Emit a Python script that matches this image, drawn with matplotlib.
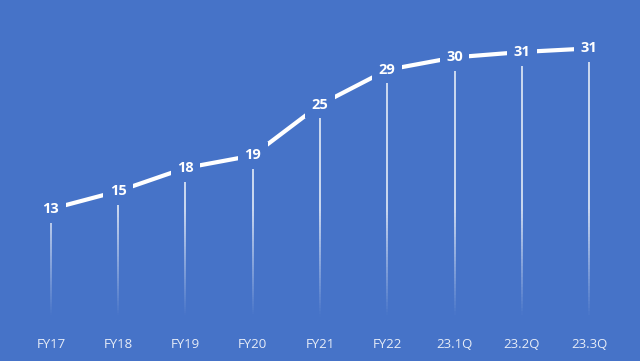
import numpy as np
import matplotlib
matplotlib.use("Agg")
import matplotlib.pyplot as plt
from matplotlib.collections import LineCollection

categories = ["FY17", "FY18", "FY19", "FY20", "FY21", "FY22", "23.1Q", "23.2Q", "23.3Q"]
values = [13.0, 15.0, 17.6, 19.0, 24.7, 28.6, 30.0, 30.6, 31.0]

BG = "#4673C8"
fig = plt.figure(figsize=(6.4, 3.61), dpi=100, facecolor=BG)
ax = fig.add_axes([0.027, 0.0997, 0.946, 0.865])
ax.set_facecolor(BG)
x = np.arange(len(categories))

# gradient drop lines
segs, cols = [], []
for xi, v in zip(x, values):
    ys = np.linspace(0, v, 80)
    for a, b in zip(ys[:-1], ys[1:]):
        segs.append([(xi, a), (xi, b)])
        m = (a + b) / 2
        alpha = np.clip((m - 1.0) / 12.0, 0, 1) * 0.85
        cols.append((1, 1, 1, alpha))
ax.add_collection(LineCollection(segs, colors=cols, linewidths=1.2, zorder=1))

ax.plot(x, values, color="white", lw=3, zorder=2, solid_capstyle="butt")
for xi, v in zip(x, values):
    ax.text(xi, v, f"{v:.0f}", ha="center", va="center", color="white",
            fontsize=10.5, fontweight="bold", family="Open Sans", zorder=3,
            bbox=dict(boxstyle="square,pad=0.45", fc=BG, ec="none"))

ax.set_xlim(-0.5, len(categories) - 0.5)
ax.set_ylim(0, 35)
ax.set_xticks(x)
ax.set_xticklabels(categories, color="#E6ECF7", fontsize=9.5, family="Open Sans")
ax.tick_params(axis="x", length=0, pad=9)
ax.set_yticks([])
for s in ax.spines.values():
    s.set_visible(False)

fig.savefig("out.png", dpi=100, facecolor=BG)
